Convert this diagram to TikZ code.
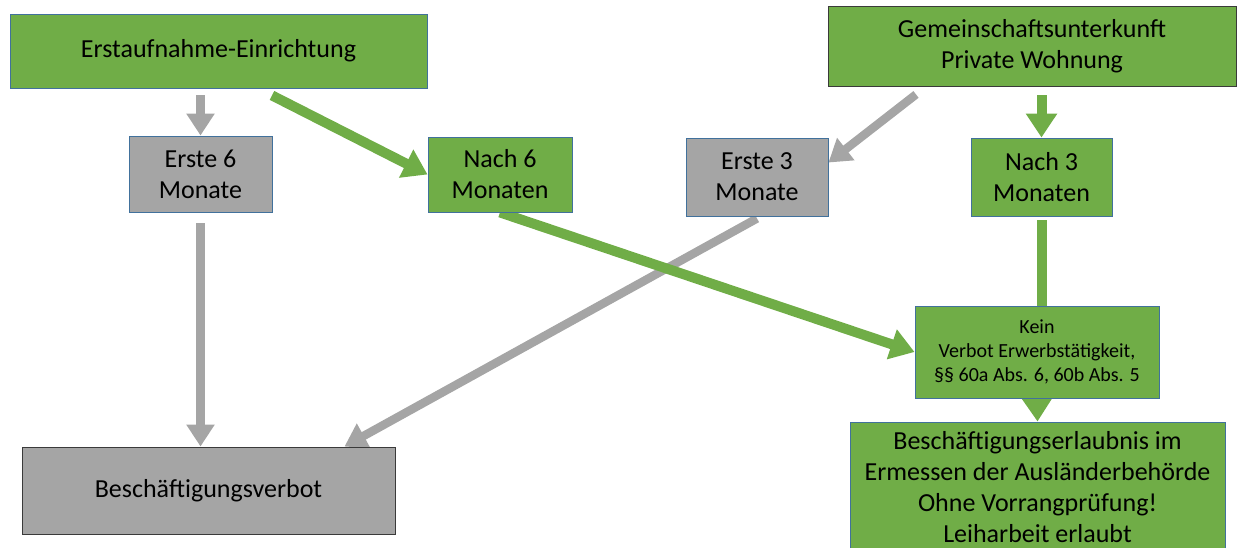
\documentclass[tikz,border=0pt]{standalone}
\usepackage{fontspec}
\setmainfont{Carlito}
\usetikzlibrary{arrows.meta,backgrounds}

\definecolor{boxgreen}{HTML}{70AD47}
\definecolor{boxgray}{HTML}{A5A5A5}
\definecolor{boxblue}{HTML}{41719C}
\definecolor{boxdark}{HTML}{3A3A3A}

\begin{document}
\begin{tikzpicture}[x=1pt, y=1pt,
  box/.style={draw=boxblue, line width=0.9pt, fill=boxgreen, align=center, inner sep=0pt, font=\fontsize{26}{31}\selectfont},
  graybox/.style={box, fill=boxgray},
  darkedge/.style={draw=boxdark},
  grayarrow/.style={draw=boxgray, line width=8.5pt, -{Triangle[width=27pt,length=22pt]}},
  greenarrow/.style={draw=boxgreen, line width=10pt, -{Triangle[width=30pt,length=24pt]}},
  greenline/.style={draw=boxgreen, line width=10pt}]
\useasboundingbox (0,0) rectangle (1238,548);

% Housing
\node[box, minimum width=417pt, minimum height=74pt] (ea) at (218.5,497) {Erstaufnahme-Einrichtung};
\node[box, darkedge, minimum width=408pt, minimum height=80pt] (gu) at (1032,502) {Gemeinschaftsunterkunft\\Private Wohnung};

% Periods
\node[graybox, minimum width=143pt, minimum height=76pt] (e6) at (200.5,374) {Erste 6\\Monate};
\node[box, minimum width=144pt, minimum height=75pt] (n6) at (500,373.5) {Nach 6\\Monaten};
\node[graybox, minimum width=142pt, minimum height=78pt] (e3) at (757,371) {Erste 3\\Monate};
\node[box, minimum width=141pt, minimum height=78pt] (n3) at (1041.5,371) {Nach 3\\Monaten};

% Results
\node[graybox, darkedge, minimum width=373pt, minimum height=87pt] (bv) at (208.5,57.5) {Beschäftigungsverbot};
\node[box, font=\fontsize{20}{24}\selectfont, minimum width=244pt, minimum height=92pt] (kein) at (1037,196) {Kein\\Verbot Erwerbstätigkeit,\\§§ 60a Abs. 6, 60b Abs. 5};
\node[box, minimum width=375pt, minimum height=130pt] (be) at (1037.5,61) {Beschäftigungserlaubnis im\\Ermessen der Ausländerbehörde\\Ohne Vorrangprüfung!\\Leiharbeit erlaubt};

% Arrows
\begin{scope}[on background layer]
\draw[grayarrow] ([yshift=-7pt]ea.south -| e6.north) -- (e6.north);
\draw[grayarrow] ([yshift=-11pt]e6.south) -- (e6.south |- bv.north);
\draw[grayarrow] ([xshift=-116pt,yshift=-8pt]gu.south) -- ([yshift=-25pt]e3.north east);
\draw[grayarrow] ([yshift=-2pt]e3.south) -- ([xshift=-51pt]bv.north east);

\draw[greenarrow] ([xshift=53.5pt,yshift=-7pt]ea.south) -- (n6.west);
\draw[greenarrow] ([yshift=-9pt]gu.south -| n3.north) -- (n3.north);
\draw[greenarrow] (n6.south) -- (kein.west);
\draw[greenline] ([yshift=-4pt]n3.south) -- (n3.south |- kein.north);
\draw[greenarrow] (kein.south) -- (be.north);
\end{scope}

\end{tikzpicture}
\end{document}
